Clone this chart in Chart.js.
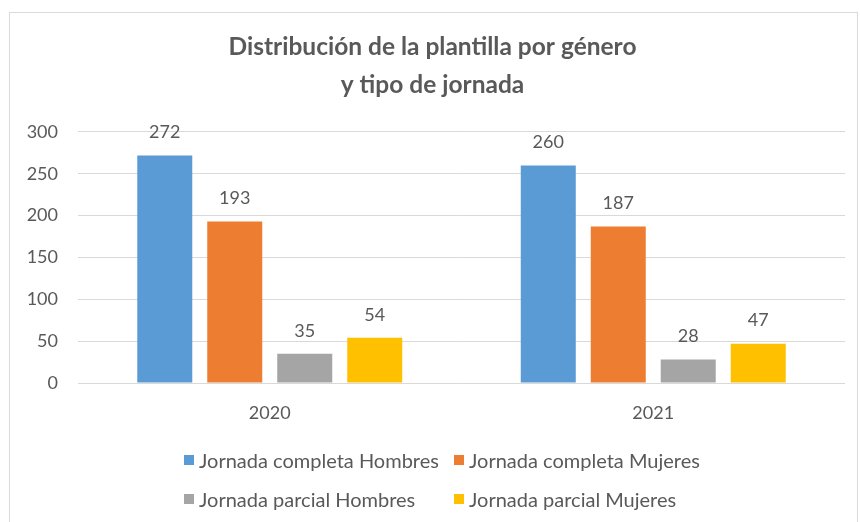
<!DOCTYPE html>
<html lang="es">
<head>
<meta charset="utf-8">
<title>Distribución de la plantilla</title>
<script src="https://cdn.jsdelivr.net/npm/chart.js@4.4.1/dist/chart.umd.min.js"></script>
<style>
    html, body { margin: 0; padding: 0; background: #fff; }
    #wrap { position: relative; width: 860px; height: 522px; }
    #chart { position: absolute; left: 0; top: 0; }
    .lg-item {
        position: absolute; display: flex; align-items: center;
        font-family: Lato, sans-serif; font-size: 20px; color: #595959;
        white-space: nowrap; transform: translateY(-50%);
    }
    .lg-box { width: 10px; height: 10px; margin-right: 5px; }
</style>
</head>
<body>
<div id="wrap">
    <canvas id="chart" width="860" height="522"></canvas>
    <div id="legend"></div>
</div>
<script>
// ── Datos ──────────────────────────────────────────────────
const YEARS   = ['2020', '2021'];
const SERIES  = ['Jornada completa Hombres', 'Jornada completa Mujeres',
                 'Jornada parcial Hombres', 'Jornada parcial Mujeres'];
const COMPLETA_HOMBRES = [272, 260];
const COMPLETA_MUJERES = [193, 187];
const PARCIAL_HOMBRES  = [35, 28];
const PARCIAL_MUJERES  = [54, 47];
const COLORS  = ['#5B9BD5', '#ED7D31', '#A5A5A5', '#FFC000'];
const TITLE   = ['Distribución de la plantilla por género', 'y tipo de jornada'];

const TEXT = '#595959';
const FONT = 'Lato, sans-serif';

// ── Plugins ────────────────────────────────────────────────
const frame = {
    id: 'frame',
    beforeDraw(chart) {
        const ctx = chart.ctx;
        ctx.save();
        ctx.strokeStyle = '#D9D9D9';
        ctx.lineWidth = 1;
        ctx.strokeRect(9.5, 12.5, 848, 520);
        ctx.restore();
    },
};

const valueLabels = {
    id: 'valueLabels',
    afterDatasetsDraw(chart) {
        const ctx = chart.ctx;
        ctx.save();
        ctx.font = `18px ${FONT}`;
        ctx.fillStyle = TEXT;
        ctx.textAlign = 'center';
        ctx.textBaseline = 'middle';
        chart.data.datasets.forEach((ds, i) => {
            chart.getDatasetMeta(i).data.forEach((bar, j) => {
                ctx.fillText(ds.data[j], bar.x, bar.y - 23);
            });
        });
        ctx.restore();
    },
};

// ── Chart ──────────────────────────────────────────────────
const values = [COMPLETA_HOMBRES, COMPLETA_MUJERES, PARCIAL_HOMBRES, PARCIAL_MUJERES];

const chart = new Chart(document.getElementById('chart').getContext('2d'), {
    type: 'bar',
    data: {
        labels: YEARS,
        datasets: SERIES.map((name, i) => ({
            label: name,
            data: values[i],
            backgroundColor: COLORS[i],
            categoryPercentage: 0.73,
            barPercentage: 0.786,
        })),
    },
    options: {
        responsive: false,
        animation: false,
        layout: { padding: { top: 0, left: 20, right: 15, bottom: 99 } },
        plugins: {
            legend: { display: false },
            tooltip: { enabled: false },
            title: {
                display: true,
                text: TITLE,
                color: TEXT,
                font: { family: FONT, size: 24.5, weight: 'bold', lineHeight: 1.55 },
                padding: { top: 28, bottom: 28 },
            },
        },
        scales: {
            x: {
                grid: { display: false, drawTicks: false },
                border: { display: false },
                ticks: { color: TEXT, font: { family: FONT, size: 18 }, padding: 19 },
                afterFit: s => { s.height = 40; },
            },
            y: {
                min: 0, max: 300,
                grid: { color: '#D9D9D9', drawTicks: false },
                border: { display: false },
                ticks: { stepSize: 50, color: TEXT, font: { family: FONT, size: 18 }, padding: 20 },
                afterFit: s => { s.width = 58; },
            },
        },
    },
    plugins: [frame, valueLabels],
});

// ── Leyenda HTML ───────────────────────────────────────────
const LEGEND_POS = [[184, 460], [454, 460], [184, 499], [454, 499]];
document.getElementById('legend').innerHTML = chart.data.datasets.map((ds, i) =>
    `<div class="lg-item" style="left:${LEGEND_POS[i][0]}px;top:${LEGEND_POS[i][1]}px">
        <span class="lg-box" style="background:${ds.backgroundColor}"></span>${ds.label}
    </div>`).join('');
</script>
</body>
</html>
